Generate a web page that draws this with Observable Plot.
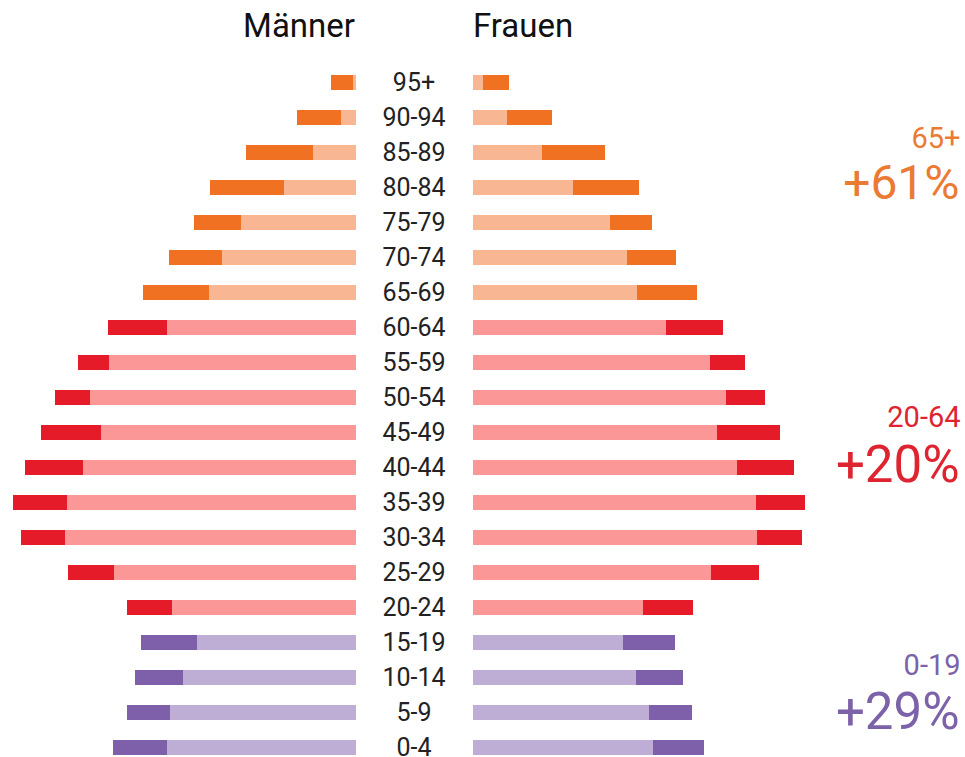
<!DOCTYPE html>
<html>
<head>
<meta charset="utf-8">
<script src="https://cdn.jsdelivr.net/npm/d3@7"></script>
<script src="https://cdn.jsdelivr.net/npm/@observablehq/plot@0.6"></script>
<style>
  html, body { margin: 0; padding: 0; background: #fff; }
  #wrap { position: relative; width: 965px; height: 757px; font-family: Roboto, sans-serif; overflow: hidden; }
  #wrap > div.part { position: absolute; top: 0; }
  .title { position: absolute; top: 6px; font-size: 33px; font-weight: 400; color: #111; line-height: 40px; }
</style>
</head>
<body>
<div id="wrap">
  <div class="title" id="tm" style="right: 610px; text-align: right;"></div>
  <div class="title" id="tf" style="left: 473px;"></div>
  <div class="part" id="left" style="left:0;width:356px"></div>
  <div class="part" id="mid" style="left:356px;width:117px"></div>
  <div class="part" id="right" style="left:473px;width:492px"></div>
</div>
<script>
// ---- data ----
const sides = ["Männer", "Frauen"];
const ages = ["95+","90-94","85-89","80-84","75-79","70-74","65-69","60-64","55-59","50-54",
              "45-49","40-44","35-39","30-34","25-29","20-24","15-19","10-14","5-9","0-4"];
const ageGroup = ["65+","65+","65+","65+","65+","65+","65+","20-64","20-64","20-64",
                  "20-64","20-64","20-64","20-64","20-64","20-64","0-19","0-19","0-19","0-19"];
// light (current) and total (future) values, arbitrary units
const maleNow    = [3, 15, 43, 72, 115, 134, 147, 189, 247, 266, 255, 273, 289, 291, 242, 184, 159, 173, 186, 189];
const maleFuture = [25, 59, 110, 146, 162, 187, 213, 248, 278, 301, 315, 331, 343, 335, 288, 229, 215, 221, 229, 243];
const femaleNow    = [10, 34, 69, 100, 137, 154, 164, 193, 237, 253, 244, 264, 283, 284, 238, 170, 150, 163, 176, 180];
const femaleFuture = [36, 79, 132, 166, 179, 203, 224, 250, 272, 292, 307, 321, 332, 329, 286, 220, 202, 210, 219, 231];
// annotations
const groups = ["65+", "20-64", "0-19"];
const groupChange = ["+61%", "+20%", "+29%"];
const groupAnchorAge = ["85-89", "45-49", "10-14"];
const changeAnchorAge = ["80-84", "40-44", "5-9"];

const lightColor = {"65+": "#F9B693", "20-64": "#FB9897", "0-19": "#BEADD5"};
const darkColor  = {"65+": "#F07122", "20-64": "#E61B2A", "0-19": "#7D5FAA"};
const textColor  = {"65+": "#EB7A33", "20-64": "#DE2430", "0-19": "#7C62A8"};

const rows = (now, fut) => ages.map((a, i) => ({age: a, group: ageGroup[i], now: now[i], future: fut[i]}));
const male = rows(maleNow, maleFuture);
const female = rows(femaleNow, femaleFuture);

const H = 757;
const yScale = {type: "band", domain: ages, paddingInner: 0.58, paddingOuter: 0.05, axis: null};
const common = {height: H, marginTop: 72, marginBottom: 0, marginLeft: 0, marginRight: 0,
  style: {fontFamily: "Roboto, sans-serif", background: "transparent", overflow: "visible"}};

function bars(data) {
  return [
    Plot.barX(data, {y: "age", x1: 0, x2: "now", fill: d => lightColor[d.group]}),
    Plot.barX(data, {y: "age", x1: "now", x2: "future", fill: d => darkColor[d.group]})
  ];
}

const leftPlot = Plot.plot({
  ...common, width: 356,
  x: {domain: [0, 356], reverse: true, axis: null},
  y: yScale,
  marks: bars(male)
});
document.getElementById("left").append(leftPlot);

const midPlot = Plot.plot({
  ...common, width: 117,
  x: {axis: null},
  y: yScale,
  marks: [
    Plot.text(ages, {y: d => d, text: d => d, frameAnchor: "middle", dx: -1, fontSize: 25, fill: "#222"})
  ]
});
document.getElementById("mid").append(midPlot);

const annGroups = groups.map((g, i) => ({g, age: groupAnchorAge[i]}));
const annChanges = groups.map((g, i) => ({g, text: groupChange[i], age: changeAnchorAge[i]}));
const groupDy = {"65+": -14, "20-64": -15, "0-19": -12};
const changeDy = {"65+": -4, "20-64": -2, "0-19": 0};
const changeSize = {"65+": 48, "20-64": 51, "0-19": 51};

const rightPlot = Plot.plot({
  ...common, width: 492,
  x: {domain: [0, 492], axis: null},
  y: yScale,
  marks: [
    ...bars(female),
    ...annGroups.map(d => Plot.text([d], {y: "age", text: "g", frameAnchor: "right", textAnchor: "end",
      dx: -5, dy: groupDy[d.g], fontSize: 29, fill: textColor[d.g]})),
    ...annChanges.map(d => Plot.text([d], {y: "age", text: "text", frameAnchor: "right", textAnchor: "end",
      dx: -6, dy: changeDy[d.g], fontSize: changeSize[d.g], fill: textColor[d.g]}))
  ]
});
document.getElementById("right").append(rightPlot);

document.getElementById("tm").textContent = sides[0];
document.getElementById("tf").textContent = sides[1];
</script>
</body>
</html>
